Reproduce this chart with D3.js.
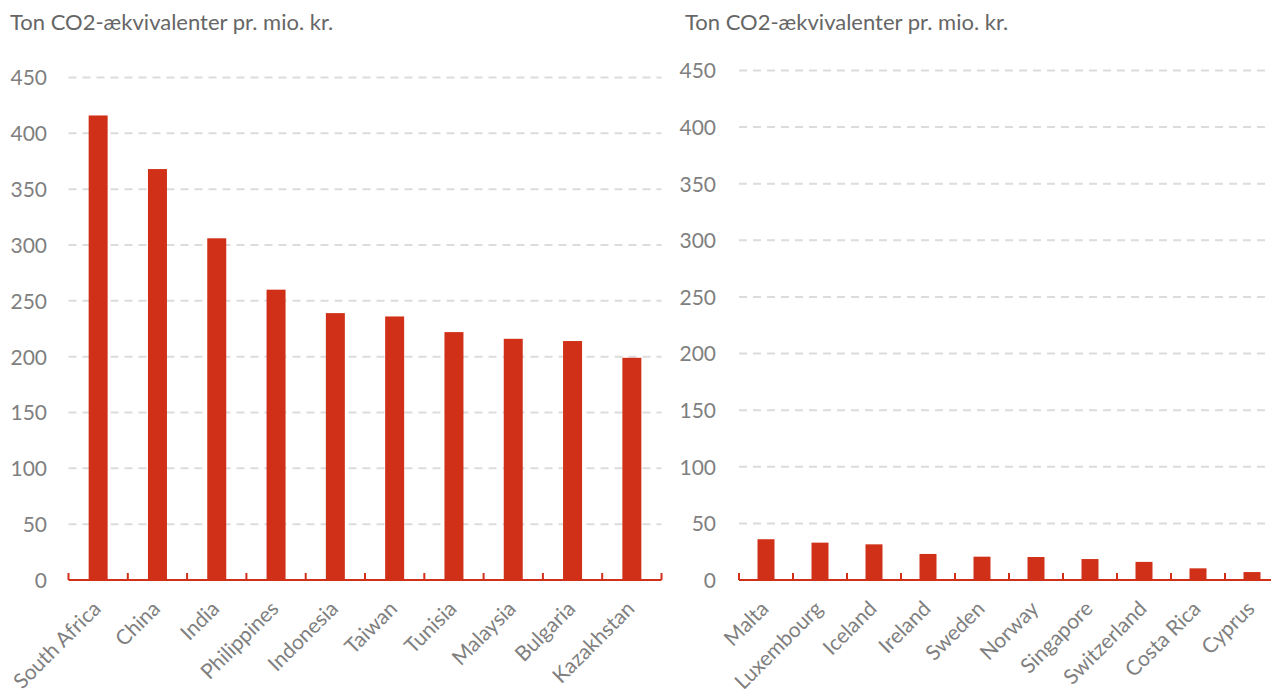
<!DOCTYPE html>
<html>
<head>
<meta charset="utf-8">
<script src="https://cdn.jsdelivr.net/npm/d3@7"></script>
<style>
  body { margin: 0; background: #fff; }
  svg text { font-family: Lato, "Open Sans", sans-serif; }
</style>
</head>
<body>
<svg id="chart" width="1271" height="695"></svg>
<script>
// left panel: highest emitters
const leftCountries = ["South Africa", "China", "India", "Philippines", "Indonesia", "Taiwan", "Tunisia", "Malaysia", "Bulgaria", "Kazakhstan"]
const leftValues = [416, 368, 306, 260, 239, 236, 222, 216, 214, 199]

// right panel: lowest emitters
const rightCountries = ["Malta", "Luxembourg", "Iceland", "Ireland", "Sweden", "Norway", "Singapore", "Switzerland", "Costa Rica", "Cyprus"]
const rightValues = [36, 33, 31.5, 23, 20.6, 20.3, 18.5, 16, 10.3, 7]

const yTicks = [0, 50, 100, 150, 200, 250, 300, 350, 400, 450]
const unitLabel = "Ton CO2-ækvivalenter pr. mio. kr."

const red = "#d13018"
const gray = "#7f7f7f"

const svg = d3.select("#chart")

const drawPanel = (opts) => {
    const g = svg.append("g")

    const x = d3.scaleBand()
        .domain(opts.categories)
        .range([opts.left, opts.left + opts.bandW * opts.categories.length])

    const y = d3.scaleLinear()
        .domain([0, 450])
        .range([opts.bottom, opts.top])

    // title
    g.append("text")
        .attr("x", opts.titleX)
        .attr("y", 30)
        .attr("fill", "#666")
        .style("font-size", "22px")
        .text(unitLabel)

    // dashed gridlines
    g.append("g")
        .selectAll("line")
        .data(yTicks.filter(d => d > 0))
        .join("line")
        .attr("x1", opts.left)
        .attr("x2", opts.gridEnd)
        .attr("y1", d => y(d))
        .attr("y2", d => y(d))
        .attr("stroke", "#dcdcdc")
        .attr("stroke-width", 2)
        .attr("stroke-dasharray", "8,6")

    // y axis labels
    const yAxis = d3.axisLeft(y).tickValues(yTicks).tickSize(0).tickPadding(0)
    g.append("g")
        .attr("transform", `translate(${opts.labelX},0)`)
        .call(yAxis)
        .call(a => a.select(".domain").remove())
        .call(a => a.selectAll("text")
            .attr("fill", gray)
            .style("font-size", "21px")
            .attr("dy", "0.35em"))

    // bars
    const barW = opts.barW
    g.append("g")
        .selectAll("rect")
        .data(opts.values)
        .join("rect")
        .attr("x", (d, i) => x(opts.categories[i]) + (x.bandwidth() - barW) / 2)
        .attr("y", d => y(d))
        .attr("width", barW)
        .attr("height", d => y(0) - y(d))
        .attr("fill", red)

    // x axis line and ticks at band edges
    const edges = d3.range(opts.categories.length + 1).map(i => opts.left + i * x.step())
    g.append("line")
        .attr("x1", opts.left)
        .attr("x2", opts.axisEnd)
        .attr("y1", y(0))
        .attr("y2", y(0))
        .attr("stroke", red)
        .attr("stroke-width", 2)
    g.append("g")
        .selectAll("line")
        .data(edges.filter(e => e <= opts.axisEnd))
        .join("line")
        .attr("x1", d => d)
        .attr("x2", d => d)
        .attr("y1", y(0))
        .attr("y2", y(0) - 7)
        .attr("stroke", red)
        .attr("stroke-width", 2)

    // rotated category labels
    g.append("g")
        .selectAll("text")
        .data(opts.categories)
        .join("text")
        .attr("transform", d => `translate(${x(d) + x.bandwidth() / 2 + 4},${y(0) + 30}) rotate(-45)`)
        .attr("text-anchor", "end")
        .attr("fill", gray)
        .style("font-size", "21px")
        .text(d => d)
}

drawPanel({
    categories: leftCountries,
    values: leftValues,
    left: 68.5,
    bandW: 59.3,
    barW: 19,
    top: 77.5,
    bottom: 580,
    gridEnd: 661.5,
    axisEnd: 661.5,
    labelX: 47,
    titleX: 10
})

drawPanel({
    categories: rightCountries,
    values: rightValues,
    left: 739,
    bandW: 54,
    barW: 17,
    top: 70.5,
    bottom: 580,
    gridEnd: 1271,
    axisEnd: 1271,
    labelX: 716,
    titleX: 685
})
</script>
</body>
</html>
